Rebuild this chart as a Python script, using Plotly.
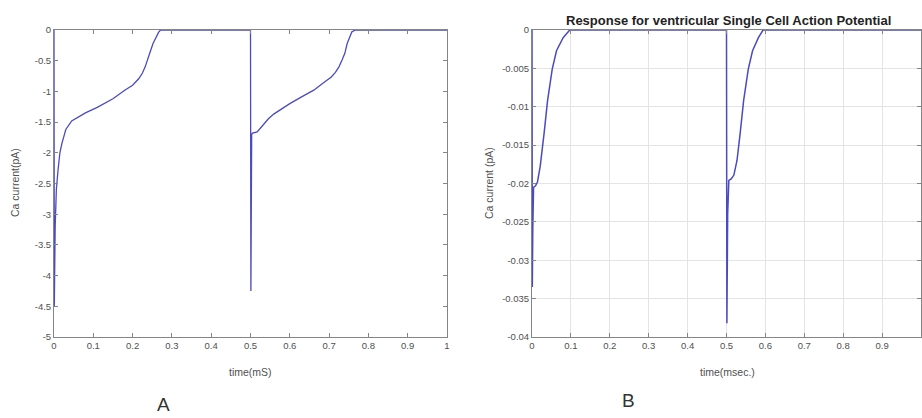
import plotly.graph_objects as go

# ---- Panel A data: Ca current (pA) vs time (mS)
tA = [0, 0.0008, 0.003, 0.006, 0.01, 0.015, 0.02, 0.03, 0.045, 0.06, 0.08, 0.11,
      0.15, 0.18, 0.2, 0.216, 0.225, 0.232, 0.237, 0.245, 0.252, 0.26, 0.266, 0.271,
      0.3, 0.4, 0.5, 0.501, 0.503, 0.505, 0.517, 0.525, 0.534, 0.545, 0.559, 0.58,
      0.60, 0.63, 0.661, 0.69, 0.705, 0.716, 0.725, 0.733, 0.74, 0.746, 0.752, 0.758,
      0.767, 0.8, 0.9, 1.0]
iA = [0, -4.5, -3.2, -2.6, -2.3, -2.0, -1.85, -1.62, -1.48, -1.42, -1.35, -1.26,
      -1.12, -0.98, -0.90, -0.79, -0.70, -0.60, -0.49, -0.35, -0.22, -0.10, -0.04, 0,
      0, 0, 0, -4.25, -1.70, -1.68, -1.66, -1.60, -1.53, -1.45, -1.37, -1.28,
      -1.20, -1.09, -0.98, -0.84, -0.77, -0.69, -0.60, -0.49, -0.38, -0.22, -0.12, -0.03,
      0, 0, 0, 0]

# ---- Panel B data: Ca current (pA) vs time (msec.)
tB = [0, 0.0008, 0.002, 0.004, 0.009, 0.014, 0.021, 0.031, 0.040, 0.052, 0.063,
      0.080, 0.097, 0.2, 0.3, 0.4, 0.5, 0.501, 0.503, 0.506, 0.512, 0.519, 0.527,
      0.535, 0.544, 0.556, 0.567, 0.582, 0.594, 0.7, 0.8, 0.9, 1.0]
iB = [0, -0.0335, -0.026, -0.0205, -0.0203, -0.0198, -0.0178, -0.0135, -0.0092, -0.0051, -0.0027,
      -0.0010, 0, 0, 0, 0, 0, -0.0382, -0.0240, -0.0196, -0.0194, -0.0189, -0.0170,
      -0.0135, -0.0092, -0.0051, -0.0027, -0.0010, 0, 0, 0, 0, 0]

x_ticks = [0, 0.1, 0.2, 0.3, 0.4, 0.5, 0.6, 0.7, 0.8, 0.9, 1]
xA_labels = ["0", "0.1", "0.2", "0.3", "0.4", "0.5", "0.6", "0.7", "0.8", "0.9", "1"]
xB_labels = ["0", "0.1", "0.2", "0.3", "0.4", "0.5", "0.6", "0.7", "0.8", "0.9", ""]
yA_ticks = [0, -0.5, -1, -1.5, -2, -2.5, -3, -3.5, -4, -4.5, -5]
yA_labels = ["0", "-0.5", "-1", "-1.5", "-2", "-2.5", "-3", "-3.5", "-4", "-4.5", "-5"]
yB_ticks = [0, -0.005, -0.01, -0.015, -0.02, -0.025, -0.03, -0.035, -0.04]
yB_labels = ["0", "-0.005", "-0.01", "-0.015", "-0.02", "-0.025", "-0.03", "-0.035", "-0.04"]

title_B = "Response for ventricular Single Cell Action Potential"
xtitle_A = "time(mS)"
xtitle_B = "time(msec.)"
ytitle_A = "Ca current(pA)"
ytitle_B = "Ca current (pA)"

W, H = 922, 418
LINE = "#4b4bbf"
AX = "#858585"
TXT = "#505050"
FONT = "Liberation Sans, Arial, sans-serif"

def px(x):
    return x / W

def py(y):
    return 1 - y / H

fig = go.Figure()
fig.add_trace(go.Scatter(x=tA, y=iA, mode="lines", line=dict(color=LINE, width=1.3),
                         xaxis="x", yaxis="y", showlegend=False))
fig.add_trace(go.Scatter(x=tB, y=iB, mode="lines", line=dict(color=LINE, width=1.5),
                         xaxis="x2", yaxis="y2", showlegend=False))

axcommon = dict(showline=True, linecolor=AX, linewidth=1, mirror="ticks",
                ticks="inside", ticklen=4, tickcolor=AX, zeroline=False,
                tickfont=dict(size=9.5, color=TXT, family=FONT), automargin=False)

fig.update_layout(
    width=W, height=H,
    margin=dict(l=0, r=0, t=0, b=0),
    paper_bgcolor="white", plot_bgcolor="white",
    font=dict(family=FONT, color=TXT),
    xaxis=dict(domain=[px(54), px(447)], range=[0, 1], anchor="y",
               tickmode="array", tickvals=x_ticks, ticktext=xA_labels,
               showgrid=False, **axcommon),
    yaxis=dict(domain=[py(337), py(30)], range=[-5, 0], anchor="x",
               tickmode="array", tickvals=yA_ticks, ticktext=yA_labels,
               showgrid=False, **axcommon),
    xaxis2=dict(domain=[px(532), px(921)], range=[0, 1], anchor="y2",
                tickmode="array", tickvals=x_ticks, ticktext=xB_labels,
                showgrid=True, gridcolor="#e4e4e4", gridwidth=1, **axcommon),
    yaxis2=dict(domain=[py(337), py(30)], range=[-0.04, 0], anchor="x2",
                tickmode="array", tickvals=yB_ticks, ticktext=yB_labels,
                showgrid=True, gridcolor="#e4e4e4", gridwidth=1, **axcommon),
)

ann = [
    dict(text=xtitle_A, x=px(250), y=py(372), size=10.5, angle=0, bold=False),
    dict(text=xtitle_B, x=px(727), y=py(372), size=10.5, angle=0, bold=False),
    dict(text=ytitle_A, x=px(15), y=py(183), size=10.5, angle=-90, bold=False),
    dict(text=ytitle_B, x=px(489), y=py(183), size=10.5, angle=-90, bold=False),
    dict(text=title_B, x=px(728), y=py(20), size=13, angle=0, bold=True),
]
for a in ann:
    fig.add_annotation(
        text=("<b>%s</b>" % a["text"]) if a["bold"] else a["text"],
        x=a["x"], y=a["y"], xref="paper", yref="paper",
        xanchor="center", yanchor="middle", showarrow=False, textangle=a["angle"],
        font=dict(size=a["size"], color="#222222" if a["bold"] else TXT, family=FONT),
    )

# panel letters
fig.add_annotation(text="A", x=px(163), y=py(417), xref="paper", yref="paper",
                   xanchor="center", yanchor="bottom", showarrow=False,
                   font=dict(size=19, color="#333333", family=FONT))
fig.add_annotation(text="B", x=px(628), y=py(413), xref="paper", yref="paper",
                   xanchor="center", yanchor="bottom", showarrow=False,
                   font=dict(size=19, color="#333333", family=FONT))

fig.write_html("out.html", config={"displayModeBar": False},
               post_script="document.body.style.margin='0';document.body.style.overflow='hidden';")
